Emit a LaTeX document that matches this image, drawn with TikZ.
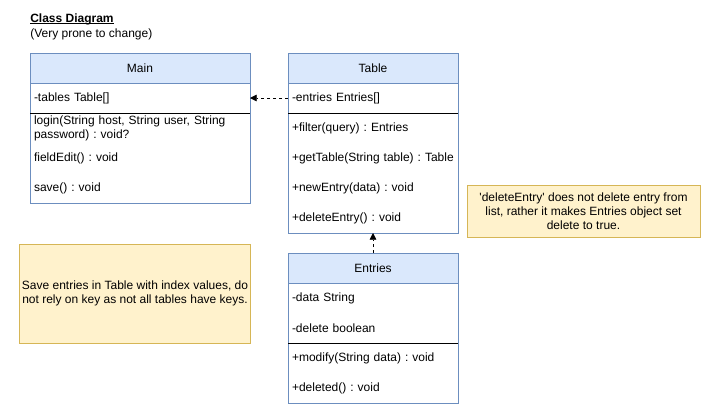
\documentclass[tikz,border=0pt]{standalone}
\usepackage{fontspec}
\setmainfont{Liberation Sans}
\usetikzlibrary{arrows.meta,positioning}
\definecolor{HeadBlue}{HTML}{DAE8FC}
\definecolor{LineBlue}{HTML}{6C8EBF}
\definecolor{NoteYellow}{HTML}{FFF2CC}
\definecolor{NoteLine}{HTML}{D6B656}
\newcommand{\umlfont}{\fontsize{9}{10.5}\selectfont\frenchspacing\hyphenpenalty=10000}
\tikzset{
  clshead/.style={draw=LineBlue, fill=HeadBlue, minimum height=22.5pt, inner sep=0pt, outer sep=0pt, font=\umlfont},
  clsrow/.style={minimum height=22.5pt, align=left, inner xsep=3pt, inner ysep=0pt, outer sep=0pt, font=\umlfont},
  clsnote/.style={draw=NoteLine, fill=NoteYellow, align=center, font=\umlfont, inner sep=2pt},
  depline/.style={-{Triangle[length=5pt,width=5pt]}, dash pattern=on 2.25pt off 2.25pt}
}

\begin{document}
\begin{tikzpicture}[x=0.75pt, y=-0.75pt, node distance=0pt]
\useasboundingbox (0,0) rectangle (707,415);

% title
\node[anchor=base west, inner sep=0pt, font=\umlfont\bfseries] (title) at (30,22) {Class Diagram};
\draw[line width=0.6pt] ([yshift=-1.2pt]title.base west) -- ([yshift=-1.2pt]title.base east);
\node[anchor=base west, inner sep=0pt, font=\umlfont] (subtitle) at (30,37) {(Very prone to change)};

% class Main
\node[clshead, minimum width=165pt, anchor=north west] (main) at (30,53) {Main};
\node[clsrow, text width=159pt, below=of main] (main-tables) {-tables Table[]};
\node[clsrow, text width=159pt, below=of main-tables] (main-login) {login(String host, String user, String\\password) : void?};
\node[clsrow, text width=159pt, below=of main-login] (main-edit) {fieldEdit() : void};
\node[clsrow, text width=159pt, below=of main-edit] (main-save) {save() : void};
\draw[LineBlue] (main.north west) rectangle (main-save.south east);
\draw (main-tables.south west) -- (main-tables.south east);

% class Table
\node[clshead, minimum width=127.5pt, anchor=north west] (table) at (288,53) {Table};
\node[clsrow, text width=121.5pt, below=of table] (table-entries) {-entries Entries[]};
\node[clsrow, text width=121.5pt, below=of table-entries] (table-filter) {+filter(query) : Entries};
\node[clsrow, text width=121.5pt, below=of table-filter] (table-get) {+getTable(String table) : Table};
\node[clsrow, text width=121.5pt, below=of table-get] (table-new) {+newEntry(data) : void};
\node[clsrow, text width=121.5pt, below=of table-new] (table-delete) {+deleteEntry() : void};
\draw[LineBlue] (table.north west) rectangle (table-delete.south east);
\draw (table-entries.south west) -- (table-entries.south east);

% class Entries
\node[clshead, minimum width=127.5pt, anchor=north west] (entries) at (288,253) {Entries};
\node[clsrow, text width=121.5pt, below=of entries] (entries-data) {-data String};
\node[clsrow, text width=121.5pt, below=of entries-data] (entries-flag) {-delete boolean};
\node[clsrow, text width=121.5pt, below=of entries-flag] (entries-modify) {+modify(String data) : void};
\node[clsrow, text width=121.5pt, below=of entries-modify] (entries-deleted) {+deleted() : void};
\draw[LineBlue] (entries.north west) rectangle (entries-deleted.south east);
\draw (entries-flag.south west) -- (entries-flag.south east);

% dependencies
\draw[depline] (table-entries.west) -- (main-tables.east);
\draw[depline] (entries.north) -- (table-delete.south);

% notes
\node[clsnote, minimum width=174.75pt, minimum height=39pt] (note-delete) at (583.5,211)
  {\textquotesingle deleteEntry\textquotesingle{} does not delete entry from\\list, rather it makes Entries object set\\delete to true.};
\node[clsnote, minimum width=172.5pt, minimum height=74.25pt] (note-save) at (135,293.5)
  {Save entries in Table with index values, do\\not rely on key as not all tables have keys.};
\end{tikzpicture}
\end{document}
